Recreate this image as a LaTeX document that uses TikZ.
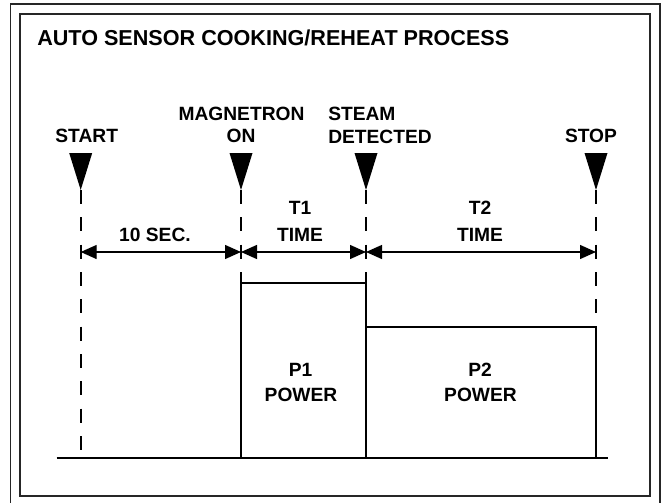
\documentclass[tikz,border=0pt]{standalone}
\usepackage{fontspec}
\setmainfont{Liberation Sans}
\usetikzlibrary{arrows.meta}
\begin{document}
\begin{tikzpicture}[x=0.75pt,y=-0.75pt,
  lbl/.style={font=\bfseries\fontsize{14.4}{17}\selectfont, inner sep=0pt, anchor=base},
  ttl/.style={font=\bfseries\fontsize{16.2}{19}\selectfont, inner sep=0pt, anchor=base west},
  frame/.style={line width=1.2pt, draw=black!85},
  guide/.style={line width=1.3pt, dash pattern=on 10.5pt off 10pt},
  dim/.style={line width=1pt, {Triangle[length=12pt,width=10.5pt]}-{Triangle[length=12pt,width=10.5pt]}},
  pw/.style={line width=1.1pt},
  evt/.pic={\fill (-11.5,0) -- (11.5,0) -- (0,37) -- cycle;}
]
\useasboundingbox (0,0) rectangle (664,503);
\clip (0,0) rectangle (664,503);
% frames
\draw[frame] (10.3,4.3) rectangle (660,520);
\draw[frame] (20,14) rectangle (650,496);
% title
\node[ttl] (title) at (37,45.5) {AUTO SENSOR COOKING/REHEAT PROCESS};
% event labels
\node[lbl] (start) at (86.7,142.7) {START};
\node[lbl] (mag1) at (241.5,120) {MAGNETRON};
\node[lbl] (mag2) at (241,142.7) {ON};
\node[lbl, anchor=base west] (st1) at (328,120.5) {STEAM};
\node[lbl, anchor=base west] (st2) at (328,143) {DETECTED};
\node[lbl] (stop) at (591,142.7) {STOP};
% event markers
\pic at (80.7,153) {evt};
\pic at (241,153) {evt};
\pic at (366,153) {evt};
\pic at (596,153) {evt};
% coordinates
\coordinate (sT) at (80.7,190);
\coordinate (sB) at (80.7,457.7);
\coordinate (mT) at (241,190);
\coordinate (mB) at (241,283);
\coordinate (dT) at (366,190);
\coordinate (dB) at (366,283);
\coordinate (pT) at (596,190);
\coordinate (pB) at (596,327);
\coordinate (sA) at (80.7,252);
\coordinate (mA) at (241,252);
\coordinate (dA) at (366,252);
\coordinate (pA) at (596,252);
% dashed guides
\draw[guide] (sT) -- (sB);
\draw[guide] (mT) -- (mB);
\draw[guide] (dT) -- (dB);
\draw[guide] (pT) -- (pB);
% dimension arrows
\draw[dim] (sA) -- (mA);
\draw[dim] (mA) -- (dA);
\draw[dim] (dA) -- (pA);
\node[lbl] (ten) at (155,241.5) {10 SEC.};
\node[lbl] (t1a) at (300,214) {T1};
\node[lbl] (t1b) at (300,241) {TIME};
\node[lbl] (t2a) at (480,214.5) {T2};
\node[lbl] (t2b) at (480,241.5) {TIME};
% power blocks
\coordinate (m0) at (241,457.7);
\coordinate (d0) at (366,457.7);
\coordinate (p0) at (596,457.7);
\coordinate (dC) at (366,327);
\draw[pw] (m0) -- (mB) -- (dB) -- (d0);
\draw[pw] (dC) -- (pB) -- (p0);
\node[lbl] (p1a) at (300.5,376) {P1};
\node[lbl] (p1b) at (301,401.7) {POWER};
\node[lbl] (p2a) at (480,376) {P2};
\node[lbl] (p2b) at (480.5,401.7) {POWER};
% time axis
\coordinate (axL) at (56.7,457.7);
\coordinate (axR) at (607.7,457.7);
\draw[line width=1.6pt] (axL) -- (axR);
\end{tikzpicture}
\end{document}
